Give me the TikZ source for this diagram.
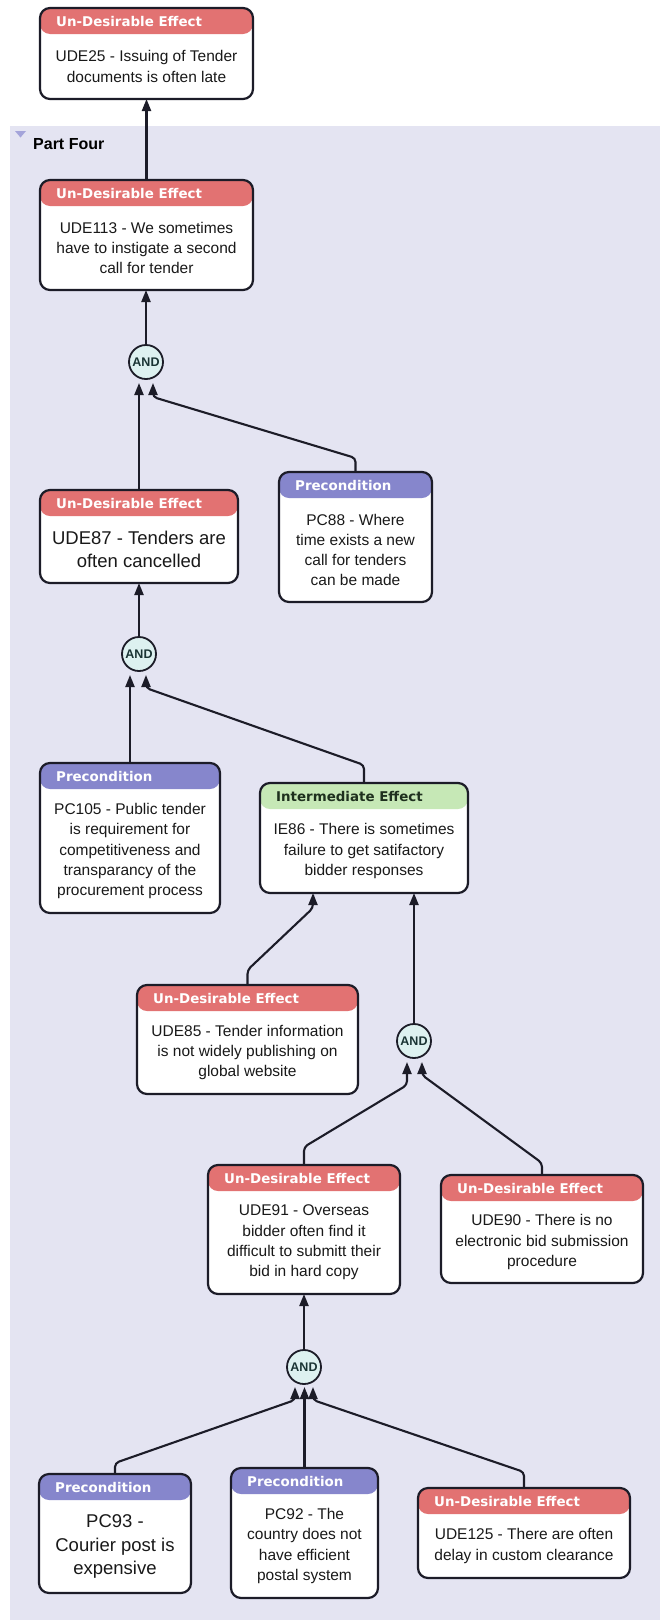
\documentclass[tikz,border=0pt]{standalone}
\usepackage{fontspec}
\setmainfont{Liberation Sans}
\newfontfamily\hdrfamily{DejaVu Sans}
\usetikzlibrary{arrows.meta}

\definecolor{partbg}{HTML}{E4E4F2}
\definecolor{udefill}{HTML}{E27272}
\definecolor{pcfill}{HTML}{8686CC}
\definecolor{iefill}{HTML}{C6E8B6}
\definecolor{udeink}{HTML}{FFFFFF}
\definecolor{pcink}{HTML}{FFFFFF}
\definecolor{ieink}{HTML}{1E301E}
\definecolor{linec}{HTML}{1C1C28}
\definecolor{andfill}{HTML}{DDF1F0}
\definecolor{andink}{HTML}{1A3434}
\definecolor{tricol}{HTML}{A4A4DA}

% header captions per entity kind
\def\udehead{Un-Desirable Effect}
\def\pchead{Precondition}
\def\iehead{Intermediate Effect}

\tikzset{
  effectbox/.style={rectangle, rounded corners=10pt, draw=linec, line width=2.2pt,
    fill=white, inner sep=0pt, outer sep=0pt,
    path picture={\fill[#1] (path picture bounding box.north west) rectangle
      ([yshift=-26pt]path picture bounding box.north east);}},
  hdr/.style={font=\hdrfamily\bfseries\fontsize{13.4}{14}\selectfont, inner sep=0pt, anchor=west},
  bodytext/.style={font=\fontsize{15.5}{20.3}\selectfont, align=center, inner sep=0pt, text=black!90},
  bigtext/.style={font=\fontsize{18.5}{23.5}\selectfont},
  andgate/.style={circle, draw=linec, line width=1.8pt, fill=andfill, minimum size=34pt,
    inner sep=0pt, outer sep=0pt, font=\bfseries\fontsize{12.5}{13}\selectfont, text=andink},
  conn/.style={draw=linec, line width=2.1pt, rounded corners=4pt,
    -{Triangle[length=12pt,width=9pt]}},
}

% \effect{name}{kind}{x1}{y1}{x2}{y2}{body style}{body text}
\newcommand\effect[8]{%
  \node[effectbox=#2fill, minimum width={(#5-#3)*1pt}, minimum height={(#6-#4)*1pt}]
    (#1) at ({(#3+#5)/2},{-(#4+#6)/2}) {};
  \node[hdr, text=#2ink] (#1-h) at ({#3+16},{-#4-13.5}) {\csname #2head\endcsname};
  \node[bodytext, #7] (#1-t) at ({(#3+#5)/2},{-(#4+26+#6)/2}) {#8};
}

\begin{document}
\begin{tikzpicture}[x=1pt, y=1pt]
\useasboundingbox (0,0) rectangle (660,-1620);
\fill[white] (0,0) rectangle (660,-1620);
\fill[partbg] (10,-126) rectangle (660,-1620);

% group title
\fill[tricol] (15,-131) -- (26,-131) -- (20.5,-137.5) -- cycle;
\node[font=\bfseries\fontsize{16}{18}\selectfont, anchor=west, inner sep=0pt] (part) at (33,-144) {Part Four};

% entities
\effect{ude25}{ude}{40}{8}{253}{99}{}{UDE25 - Issuing of Tender\\documents is often late}
\effect{ude113}{ude}{40}{180}{253}{290}{}{UDE113 - We sometimes\\have to instigate a second\\call for tender}
\effect{ude87}{ude}{40}{490}{238}{583}{bigtext}{UDE87 - Tenders are\\often cancelled}
\effect{pc88}{pc}{279}{472}{432}{602}{}{PC88 - Where\\time exists a new\\call for tenders\\can be made}
\effect{pc105}{pc}{40}{763}{220}{913}{}{PC105 - Public tender\\is requirement for\\competitiveness and\\transparancy of the\\procurement process}
\effect{ie86}{ie}{260}{783}{468}{893}{}{IE86 - There is sometimes\\failure to get satifactory\\bidder responses}
\effect{ude85}{ude}{137}{985}{358}{1094}{}{UDE85 - Tender information\\is not widely publishing on\\global website}
\effect{ude91}{ude}{208}{1165}{400}{1294}{}{UDE91 - Overseas\\bidder often find it\\difficult to submitt their\\bid in hard copy}
\effect{ude90}{ude}{441}{1175}{643}{1283}{}{UDE90 - There is no\\electronic bid submission\\procedure}
\effect{pc93}{pc}{39}{1474}{191}{1593}{bigtext}{PC93 -\\Courier post is\\expensive}
\effect{pc92}{pc}{231}{1468}{378}{1598}{}{PC92 - The\\country does not\\have efficient\\postal system}
\effect{ude125}{ude}{418}{1488}{630}{1578}{}{UDE125 - There are often\\delay in custom clearance}

% AND junctions
\node[andgate] (and1) at (146,-362) {AND};
\node[andgate] (and2) at (139,-654) {AND};
\node[andgate] (and3) at (414,-1041) {AND};
\node[andgate] (and4) at (304,-1367) {AND};

% arrow entry points
\coordinate (and1-l) at ([xshift=-7pt,yshift=-4pt]and1.south);
\coordinate (and1-r) at ([xshift=7pt,yshift=-4pt]and1.south);
\coordinate (and2-l) at ([xshift=-7pt,yshift=-4pt]and2.south);
\coordinate (and2-r) at ([xshift=7pt,yshift=-4pt]and2.south);
\coordinate (and3-l) at ([xshift=-7pt,yshift=-4pt]and3.south);
\coordinate (and3-r) at ([xshift=8pt,yshift=-4pt]and3.south);
\coordinate (and4-l) at ([xshift=-9pt,yshift=-3pt]and4.south);
\coordinate (and4-c) at ([yshift=-3pt]and4.south);
\coordinate (and4-r) at ([xshift=9pt,yshift=-3pt]and4.south);
\coordinate (ie86-l) at ([xshift=-51pt]ie86.south);

% connectors
\draw[conn] (ude113.north) -- (ude25.south);
\draw[conn] (and1.north) -- (and1.north |- ude113.south);
\draw[conn] (ude87.north) -- (ude87.north |- and1-l);
\draw[conn] (pc88.north) -- ++(0,14) -- ([yshift=-14pt]and1-r) -- (and1-r);

\draw[conn] (and2.north) -- (and2.north |- ude87.south);
\draw[conn] (pc105.north) -- (pc105.north |- and2-l);
\draw[conn] (ie86.north) -- ++(0,18) -- ([yshift=-13pt]and2-r) -- (and2-r);

\draw[conn] (ude85.north) -- ++(0,15) -- ([yshift=-15pt]ie86-l) -- (ie86-l);
\draw[conn] (and3.north) -- (and3.north |- ie86.south);
\draw[conn] (ude91.north) -- ++(0,18) -- ([yshift=-23pt]and3-l) -- (and3-l);
\draw[conn] (ude90.north) -- ++(0,12) -- ([yshift=-13pt]and3-r) -- (and3-r);

\draw[conn] (and4.north) -- (and4.north |- ude91.south);
\draw[conn] (pc93.north) -- ++(0,11) -- ([yshift=-13pt]and4-l) -- (and4-l);
\draw[conn] (pc92.north) -- (pc92.north |- and4-c);
\draw[conn] (ude125.north) -- ++(0,16) -- ([yshift=-13pt]and4-r) -- (and4-r);
\end{tikzpicture}
\end{document}
